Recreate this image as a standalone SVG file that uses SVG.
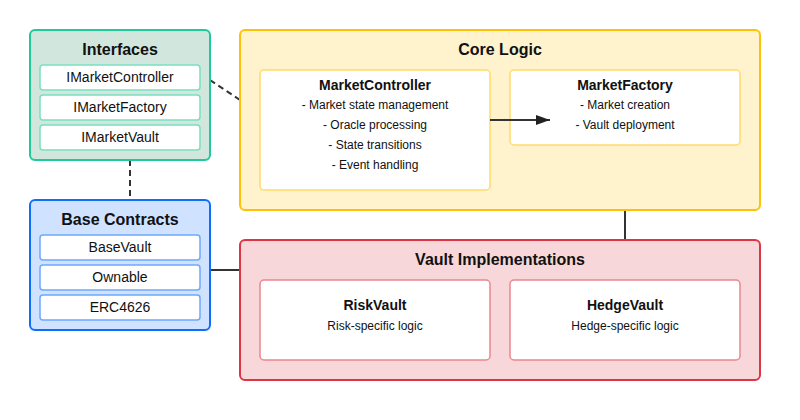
<svg xmlns="http://www.w3.org/2000/svg" width="800" height="420" viewBox="0 0 800 420">
<defs>
<marker id="arr" markerWidth="14" markerHeight="10" refX="14" refY="5" orient="auto" markerUnits="userSpaceOnUse">
<path d="M0,0 L14,5 L0,10 Z" fill="#222"/>
</marker>
<style>
text{font-family:"Liberation Sans",Arial,Helvetica,sans-serif;fill:#111;text-anchor:middle}
.h{font-size:16px;font-weight:bold}
.h2{font-size:14px;font-weight:bold}
.it{font-size:14px}
.s{font-size:12px}
.box{stroke-width:2}
.sub{fill:#fff;stroke-width:1.5}
.conn{stroke:#333;stroke-width:2;fill:none}
.dash{stroke-dasharray:6,4}
</style>
</defs>
<rect width="800" height="420" fill="#fff"/>
<g id="connectors">
<line class="conn dash" x1="210" y1="80" x2="240" y2="100"/>
<line class="conn dash" x1="130" y1="160" x2="130" y2="200"/>
<line class="conn" x1="210" y1="270" x2="240" y2="270"/>
<line class="conn" x1="625" y1="210" x2="625" y2="240"/>
</g>
<g id="interfaces">
<rect class="box" x="30" y="30" width="180" height="130" rx="5" fill="#d1e7dd" stroke="#20c997"/>
<text class="h" x="120" y="55">Interfaces</text>
<rect class="sub" x="40" y="65" width="160" height="25" rx="3" stroke="#79dfc1"/>
<text class="it" x="120" y="82">IMarketController</text>
<rect class="sub" x="40" y="95" width="160" height="25" rx="3" stroke="#79dfc1"/>
<text class="it" x="120" y="112">IMarketFactory</text>
<rect class="sub" x="40" y="125" width="160" height="25" rx="3" stroke="#79dfc1"/>
<text class="it" x="120" y="142">IMarketVault</text>
</g>
<g id="base-contracts">
<rect class="box" x="30" y="200" width="180" height="130" rx="5" fill="#cfe2ff" stroke="#0d6efd"/>
<text class="h" x="120" y="225">Base Contracts</text>
<rect class="sub" x="40" y="235" width="160" height="25" rx="3" stroke="#6ea8fe"/>
<text class="it" x="120" y="252">BaseVault</text>
<rect class="sub" x="40" y="265" width="160" height="25" rx="3" stroke="#6ea8fe"/>
<text class="it" x="120" y="282">Ownable</text>
<rect class="sub" x="40" y="295" width="160" height="25" rx="3" stroke="#6ea8fe"/>
<text class="it" x="120" y="312">ERC4626</text>
</g>
<g id="core-logic">
<rect class="box" x="240" y="30" width="520" height="180" rx="5" fill="#fff3cd" stroke="#ffc107"/>
<text class="h" x="500" y="55">Core Logic</text>
</g>
<g id="market-controller">
<rect class="sub" x="260" y="70" width="230" height="120" rx="4" stroke="#ffda6a"/>
<text class="h2" x="375" y="90">MarketController</text>
<text class="s" x="375" y="109">- Market state management</text>
<text class="s" x="375" y="129">- Oracle processing</text>
<text class="s" x="375" y="149">- State transitions</text>
<text class="s" x="375" y="169">- Event handling</text>
</g>
<g id="market-factory">
<rect class="sub" x="510" y="70" width="230" height="75" rx="4" stroke="#ffda6a"/>
<text class="h2" x="625" y="90">MarketFactory</text>
<text class="s" x="625" y="109">- Market creation</text>
<text class="s" x="625" y="129">- Vault deployment</text>
</g>
<g id="arrow">
<line class="conn" x1="490" y1="120" x2="550" y2="120" marker-end="url(#arr)"/>
</g>
<g id="vault-implementations">
<rect class="box" x="240" y="240" width="520" height="140" rx="5" fill="#f8d7da" stroke="#dc3545"/>
<text class="h" x="500" y="265">Vault Implementations</text>
</g>
<g id="risk-vault">
<rect class="sub" x="260" y="280" width="230" height="80" rx="4" stroke="#ea868f"/>
<text class="h2" x="375" y="310">RiskVault</text>
<text class="s" x="375" y="330">Risk-specific logic</text>
</g>
<g id="hedge-vault">
<rect class="sub" x="510" y="280" width="230" height="80" rx="4" stroke="#ea868f"/>
<text class="h2" x="625" y="310">HedgeVault</text>
<text class="s" x="625" y="330">Hedge-specific logic</text>
</g>
</svg>
